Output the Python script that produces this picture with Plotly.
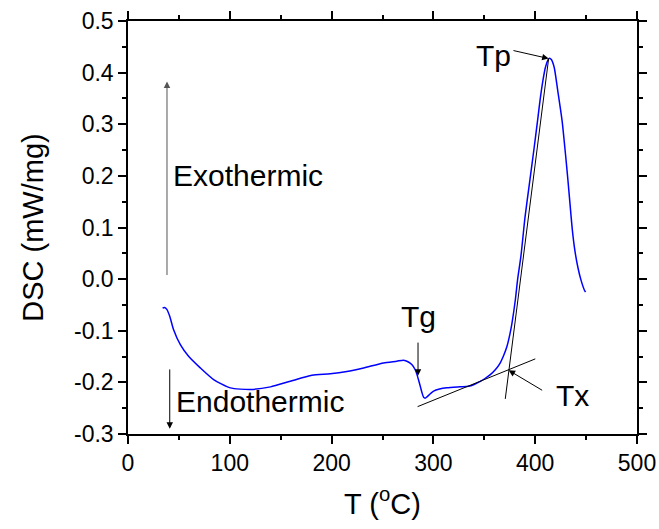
import plotly.graph_objects as go

# DSC curve
temp = [34, 36, 38.3, 41, 44.8, 51.4, 59.5, 71, 84.1, 100.5, 120, 140, 159.4, 180.7,
        198.7, 215, 231.4, 251, 264, 270.7, 275, 279, 282, 283.9, 285.5, 287.1, 288.8,
        290.4, 292, 293.7, 297, 300.2, 306, 313.3, 326.4, 334.6, 340, 346.1, 351, 355.9,
        361, 365.7, 369, 372.3, 375, 377.2, 380.5, 382.7, 386, 390, 394, 399, 402.5, 405,
        407.6, 410, 412.7, 414, 416, 418.7, 422, 426.4, 429.8, 432, 434, 436.5, 439, 442,
        445, 448.5, 449.5]
dsc = [-0.056, -0.0548, -0.059, -0.072, -0.098, -0.127, -0.1495, -0.172, -0.1946, -0.2106,
       -0.2139, -0.2087, -0.1978, -0.1862, -0.1835, -0.179, -0.172, -0.1623, -0.159, -0.157,
       -0.160, -0.166, -0.175, -0.185, -0.196, -0.2075, -0.22, -0.229, -0.2305, -0.228,
       -0.222, -0.217, -0.213, -0.2106, -0.2087, -0.2075, -0.204, -0.198, -0.192, -0.185,
       -0.175, -0.162, -0.148, -0.130, -0.108, -0.085, -0.040, -0.001, 0.045, 0.12, 0.18,
       0.255, 0.31, 0.35, 0.385, 0.41, 0.425, 0.428, 0.425, 0.41, 0.367, 0.307, 0.241,
       0.195, 0.15, 0.095, 0.055, 0.022, -0.002, -0.022, -0.025]

# Tangent construction lines
base_tan_x = [284.5, 400.1]
base_tan_y = [-0.247, -0.1545]
steep_tan_x = [370.6, 413.2]
steep_tan_y = [-0.232, 0.4273]

# Labels
labels = ["Exothermic", "Endothermic", "Tg", "Tp", "Tx"]
label_x = [42.5, 44.8, 285.5, 359.3, 437.1]
label_y = [0.20, -0.238, -0.072, 0.434, -0.2255]
label_anchor = ["left", "left", "center", "center", "center"]

# Arrows: (head_x, head_y, tail_x, tail_y)
arrow_head_x = [38.3, 41.0, 284.9, 413.2, 373.9]
arrow_head_y = [0.383, -0.29, -0.187, 0.4273, -0.1766]
arrow_tail_x = [38.3, 41.0, 284.9, 377.2, 408.3]
arrow_tail_y = [0.005, -0.172, -0.12, 0.4434, -0.217]
arrow_colors = ["#555555", "black", "black", "black", "black"]

x_ticks = [0, 100, 200, 300, 400, 500]
y_ticks = [-0.3, -0.2, -0.1, 0.0, 0.1, 0.2, 0.3, 0.4, 0.5]

FONT = "Liberation Sans, Arial, sans-serif"

fig = go.Figure()
fig.add_trace(go.Scatter(x=temp, y=dsc, mode="lines",
                         line=dict(color="#0000FF", width=1.5, shape="spline", smoothing=0.6),
                         hoverinfo="skip"))
fig.add_trace(go.Scatter(x=base_tan_x, y=base_tan_y, mode="lines",
                         line=dict(color="black", width=1)))
fig.add_trace(go.Scatter(x=steep_tan_x, y=steep_tan_y, mode="lines",
                         line=dict(color="black", width=1)))

annotations = []
for t, x, y, a in zip(labels, label_x, label_y, label_anchor):
    annotations.append(dict(x=x, y=y, xref="x", yref="y", text=t, showarrow=False,
                            xanchor=a, yanchor="middle",
                            font=dict(family=FONT, size=30, color="black")))
for hx, hy, tx, ty, c in zip(arrow_head_x, arrow_head_y, arrow_tail_x, arrow_tail_y, arrow_colors):
    annotations.append(dict(x=hx, y=hy, ax=tx, ay=ty, xref="x", yref="y",
                            axref="x", ayref="y", text="", showarrow=True,
                            arrowhead=2, arrowsize=1.3, arrowwidth=1,
                            arrowcolor=c, standoff=0, startstandoff=0))

axis_common = dict(showline=True, linecolor="black", linewidth=1.5, mirror="ticks",
                   ticks="outside", ticklen=8, tickwidth=1.5, tickcolor="black",
                   showgrid=False, zeroline=False, automargin=False,
                   tickfont=dict(family=FONT, size=23, color="black"))

fig.update_layout(
    width=659, height=529,
    margin=dict(l=128, r=22, t=21, b=95),
    paper_bgcolor="white", plot_bgcolor="white",
    showlegend=False,
    annotations=annotations,
    xaxis=dict(range=[0, 500], tickvals=x_ticks, ticktext=[str(v) for v in x_ticks],
               minor=dict(ticks="outside", ticklen=4, tickwidth=1.5, tickcolor="black", dtick=50, tick0=0),
               title=dict(text="T (<sup>o</sup>C)", font=dict(family=FONT, size=29, color="black"), standoff=18),
               **axis_common),
    yaxis=dict(range=[-0.3, 0.5], tickvals=y_ticks, ticktext=[f"{v:.1f}" for v in y_ticks],
               minor=dict(ticks="outside", ticklen=4, tickwidth=1.5, tickcolor="black", dtick=0.05, tick0=0),
               title=dict(text="DSC (mW/mg)", font=dict(family=FONT, size=29, color="black"), standoff=22),
               **axis_common),
)

fig.write_html("out.html", config={"displayModeBar": False},
               post_script="document.body.style.margin='0px';document.body.style.overflow='hidden';")
